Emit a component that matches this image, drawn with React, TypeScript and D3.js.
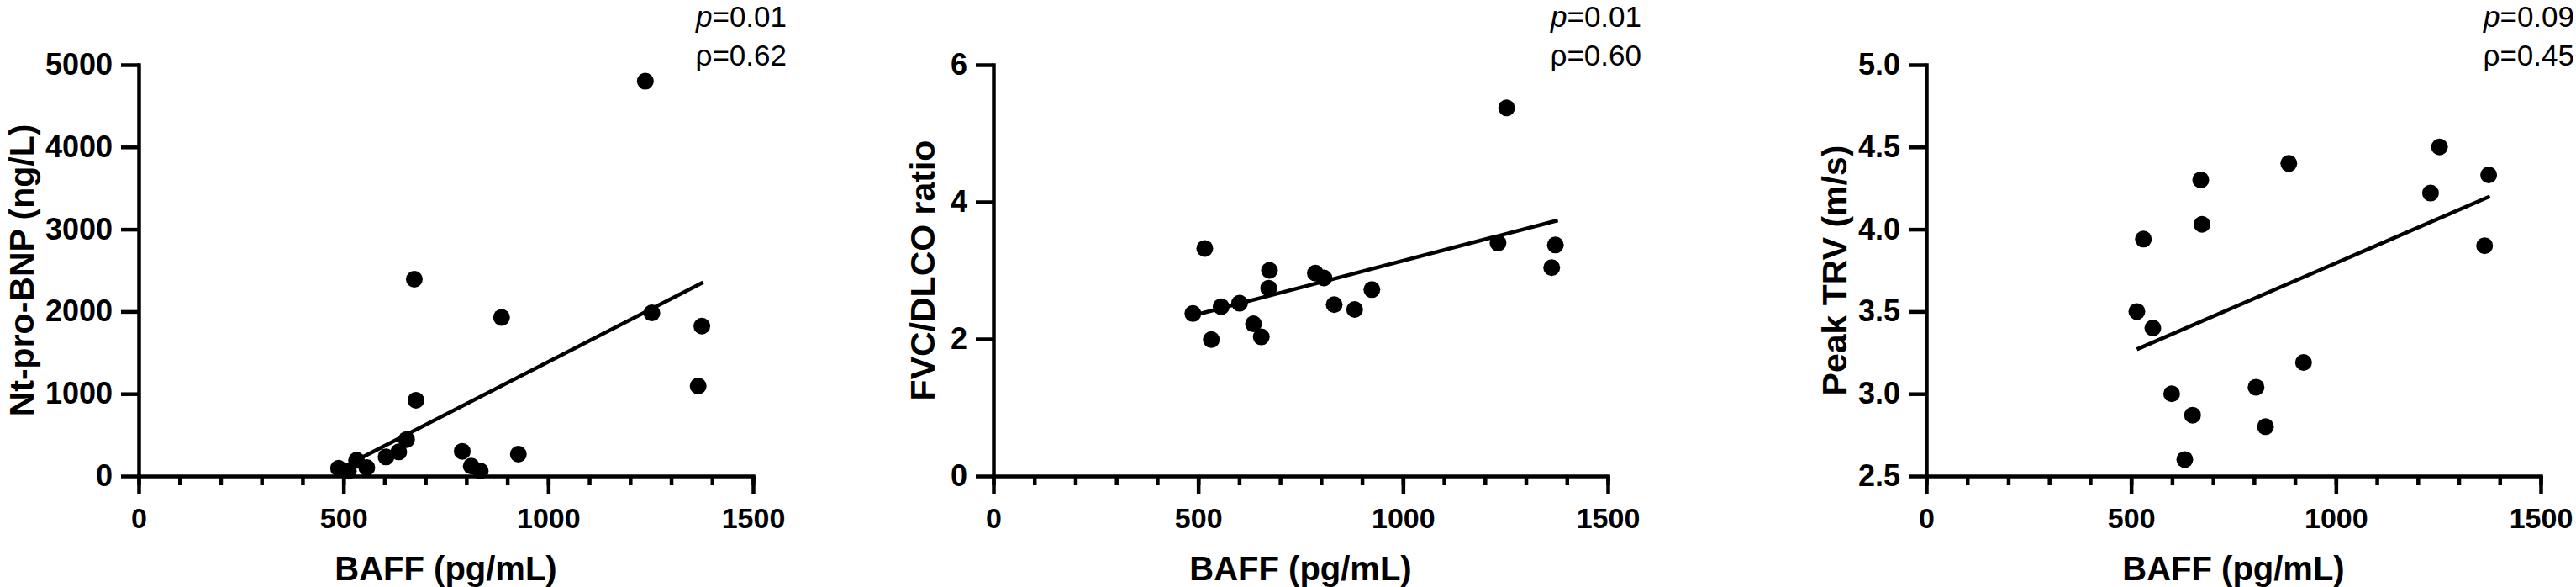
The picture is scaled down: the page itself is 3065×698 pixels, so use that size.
import { useEffect, useRef } from 'react';
import * as d3 from 'd3';

// BAFF (pg/mL) vs Nt-pro-BNP (ng/L)
const baffNt = [488, 512, 532, 557, 604, 635, 654, 677, 673, 790, 812, 834, 886, 927, 1237, 1253, 1366, 1375];
const ntProBnp = [95, 60, 191, 102, 232, 293, 443, 921, 2393, 300, 120, 61, 1928, 266, 4800, 1983, 1094, 1823];
const ntFit = [[500, 110], [1378, 2355]];

// BAFF (pg/mL) vs FVC/DLCO ratio
const baffFvc = [487, 516, 532, 556, 601, 635, 654, 674, 672, 786, 807, 832, 882, 924, 1232, 1253, 1363, 1372];
const fvcDlco = [2.37, 3.32, 1.99, 2.47, 2.52, 2.22, 2.03, 3.0, 2.74, 2.96, 2.89, 2.5, 2.43, 2.72, 3.4, 5.37, 3.04, 3.37];
const fvcFit = [[487, 2.34], [1378, 3.73]];

// BAFF (pg/mL) vs Peak TRV (m/s)
const baffTrv = [514, 530, 553, 599, 631, 650, 670, 673, 805, 828, 885, 921, 1231, 1253, 1373, 1363];
const peakTrv = [3.5, 3.94, 3.4, 3.0, 2.6, 2.87, 4.3, 4.03, 3.04, 2.8, 4.4, 3.19, 4.22, 4.5, 4.33, 3.9];
const trvFit = [[514, 3.27], [1376, 4.2]];

const xTicks = [0, 500, 1000, 1500];
const ntTicks = [0, 1000, 2000, 3000, 4000, 5000];
const fvcTicks = [0, 2, 4, 6];
const trvTicks = [2.5, 3.0, 3.5, 4.0, 4.5, 5.0];

const xLabel = 'BAFF (pg/mL)';
const yLabels = ['Nt-pro-BNP (ng/L)', 'FVC/DLCO ratio', 'Peak TRV (m/s)'];
const pValues = ['0.01', '0.01', '0.09'];
const rhoValues = ['0.62', '0.60', '0.45'];

const FONT = '"Liberation Sans", Arial, Helvetica, sans-serif';

export default function App() {
  const svgRef = useRef<SVGSVGElement>(null);

  useEffect(() => {
    if (!svgRef.current) return;
    document.body.style.margin = '0';

    const svg = d3.select(svgRef.current);
    svg.selectAll('*').remove();

    const top = 77;
    const bottom = 566;
    const sw = 4.5;

    const panels = [
      { left: 165, xs: baffNt, ys: ntProBnp, fit: ntFit, ticks: ntTicks, fmt: d3.format('d'), titleX: 40 },
      { left: 1182, xs: baffFvc, ys: fvcDlco, fit: fvcFit, ticks: fvcTicks, fmt: d3.format('d'), titleX: 1112 },
      { left: 2292, xs: baffTrv, ys: peakTrv, fit: trvFit, ticks: trvTicks, fmt: d3.format('.1f'), titleX: 2197 },
    ];

    panels.forEach((p, i) => {
      const right = p.left + 731;
      const x = d3.scaleLinear().domain([0, 1500]).range([p.left, right]);
      const y = d3.scaleLinear()
        .domain([p.ticks[0], p.ticks[p.ticks.length - 1]])
        .range([bottom, top]);

      const g = svg.append('g');

      // minor x ticks
      const minor = g.append('g')
        .attr('transform', `translate(0,${bottom})`)
        .call(d3.axisBottom(x).tickValues(d3.range(0, 1501, 100)).tickSize(11).tickSizeOuter(0).tickFormat(() => ''));
      minor.select('.domain').remove();
      minor.selectAll('line').attr('stroke', '#000').attr('stroke-width', sw);

      // major x ticks
      const xa = g.append('g')
        .attr('transform', `translate(0,${bottom})`)
        .call(d3.axisBottom(x).tickValues(xTicks).tickSize(21).tickSizeOuter(0).tickPadding(17).tickFormat(d3.format('d')));
      xa.select('.domain').attr('stroke', '#000').attr('stroke-width', sw).attr('stroke-linecap', 'square');
      xa.selectAll('line').attr('stroke', '#000').attr('stroke-width', sw);
      xa.selectAll('text')
        .attr('fill', '#000')
        .attr('font-family', FONT)
        .attr('font-weight', 'bold')
        .attr('font-size', 34);

      // y axis
      const ya = g.append('g')
        .attr('transform', `translate(${p.left},0)`)
        .call(d3.axisLeft(y).tickValues(p.ticks).tickSize(21).tickSizeOuter(0).tickPadding(10).tickFormat(p.fmt as any));
      ya.select('.domain').attr('stroke', '#000').attr('stroke-width', sw).attr('stroke-linecap', 'square');
      ya.selectAll('line').attr('stroke', '#000').attr('stroke-width', sw);
      ya.selectAll('text')
        .attr('fill', '#000')
        .attr('font-family', FONT)
        .attr('font-weight', 'bold')
        .attr('font-size', 36);

      // regression line
      g.append('path')
        .attr('d', d3.line<number[]>().x(d => x(d[0])).y(d => y(d[1]))(p.fit))
        .attr('stroke', '#000')
        .attr('stroke-width', sw)
        .attr('fill', 'none');

      // points
      g.selectAll('circle.pt')
        .data(p.xs.map((v, k) => [v, p.ys[k]]))
        .enter()
        .append('circle')
        .attr('class', 'pt')
        .attr('cx', d => x(d[0]))
        .attr('cy', d => y(d[1]))
        .attr('r', 10)
        .attr('fill', '#000');

      // axis titles
      g.append('text')
        .attr('x', (p.left + right) / 2)
        .attr('y', 690)
        .attr('text-anchor', 'middle')
        .attr('font-family', FONT)
        .attr('font-weight', 'bold')
        .attr('font-size', 40)
        .text(xLabel);

      g.append('text')
        .attr('transform', `translate(${p.titleX},${(top + bottom) / 2}) rotate(-90)`)
        .attr('text-anchor', 'middle')
        .attr('font-family', FONT)
        .attr('font-weight', 'bold')
        .attr('font-size', 41)
        .text(yLabels[i]);

      // statistics
      const pt = g.append('text')
        .attr('x', right + 40)
        .attr('y', 32)
        .attr('text-anchor', 'end')
        .attr('font-family', FONT)
        .attr('font-size', 35);
      pt.append('tspan').attr('font-style', 'italic').text('p');
      pt.append('tspan').text(`=${pValues[i]}`);

      g.append('text')
        .attr('x', right + 40)
        .attr('y', 78)
        .attr('text-anchor', 'end')
        .attr('font-family', FONT)
        .attr('font-size', 35)
        .text(`ρ=${rhoValues[i]}`);
    });
  }, []);

  return (
    <svg ref={svgRef} width={3065} height={698} style={{ display: 'block', background: '#fff' }}></svg>
  );
}
